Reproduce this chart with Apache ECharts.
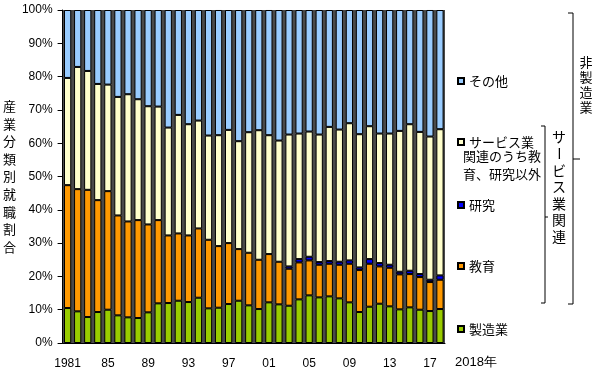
<!DOCTYPE html>
<html><head><meta charset="utf-8">
<script src="https://cdn.jsdelivr.net/npm/echarts@6/dist/echarts.min.js"></script>
<style>html,body{margin:0;padding:0;background:#fff}#c{width:600px;height:380px}</style>
</head><body><div id="c"></div>
<script>
const categories = ['1981','1982','1983','1984','1985','1986','1987','1988','1989','1990',
  '1991','1992','1993','1994','1995','1996','1997','1998','1999','2000',
  '2001','2002','2003','2004','2005','2006','2007','2008','2009','2010',
  '2011','2012','2013','2014','2015','2016','2017','2018'];
const yTickLabels = ['0%','10%','20%','30%','40%','50%','60%','70%','80%','90%','100%'];
const manufacturing = [10.5,9.5,7.8,9.3,10.0,8.3,7.7,7.5,9.2,11.9,12.0,12.7,12.3,13.6,10.4,10.6,11.7,12.7,11.3,10.2,12.2,11.6,11.2,13.1,14.3,13.7,14.0,13.4,12.2,9.3,10.9,11.8,11.0,10.1,10.7,10.0,9.6,10.2];
const education = [36.9,36.7,38.2,33.6,35.6,30.0,28.8,29.4,26.4,25.0,20.3,20.2,20.0,20.8,20.6,18.5,18.3,15.5,15.8,14.8,14.5,12.8,11.1,11.1,10.5,9.8,9.8,10.1,11.6,12.6,12.9,11.2,11.6,10.5,10.0,9.8,8.7,8.8];
const research = [null,null,null,null,null,null,null,null,null,null,null,null,null,null,null,null,null,null,null,null,null,null,0.7,1.0,1.1,0.8,0.8,0.9,1.0,0.8,1.4,1.0,0.9,0.8,1.0,0.9,0.7,1.3];
const serviceOther = [32.2,36.7,35.7,34.9,32.0,35.6,38.2,36.3,35.5,34.1,32.4,35.6,33.4,32.4,31.3,33.3,34.0,32.4,36.2,38.9,35.7,36.4,39.6,37.7,37.6,38.3,40.3,39.7,41.2,40.0,39.9,38.9,39.4,42.3,44.0,42.7,43.0,43.9];
const others = [20.4,17.1,18.3,22.2,22.4,26.1,25.3,26.8,28.9,29.0,35.3,31.5,34.3,33.2,37.7,37.6,36.0,39.4,36.7,36.1,37.6,39.2,37.4,37.1,36.5,37.4,35.1,35.9,34.0,37.3,34.9,37.1,37.1,36.3,34.3,36.6,38.0,35.8];
const seriesNames = ['製造業','教育','研究','サービス業関連のうち教育、研究以外','その他'];

const JP = '"Noto Sans CJK JP", "Noto Sans", sans-serif';
const LAT = '"Liberation Sans", Arial, sans-serif';

function mk(name, data, color){
  return {name, type:'bar', stack:'all', data, barWidth:'72%',
    itemStyle:{color, borderColor:'#000', borderWidth:1}, emphasis:{disabled:true}};
}
function vText(str, cx, cy0, pitch, size){
  const els = [];
  [...str].forEach((ch,i)=>{
    const y = cy0 + i*pitch;
    const el = {type:'text', x:cx, y:y, style:{text:ch, font:size+'px '+JP, fill:'#000', textAlign:'center', textVerticalAlign:'middle'}};
    if (ch === 'ー') el.rotation = -Math.PI/2;
    els.push(el);
  });
  return els;
}
function legendAt(name, top, formatter){
  const l = {data:[name], left:452, top:top, orient:'vertical', icon:'rect', itemWidth:6, itemHeight:6,
    selectedMode:false, textStyle:{fontFamily:JP, fontSize:13, color:'#000', lineHeight:16}};
  if (formatter) l.formatter = formatter;
  return l;
}

const chart = echarts.init(document.getElementById('c'));
chart.setOption({
  animation:false,
  backgroundColor:'#fff',
  grid:{left:54, right:155, top:10, bottom:37, show:true, backgroundColor:'#4a4a4a', borderWidth:0},
  xAxis:{type:'category', data:categories,
    axisLine:{show:true, lineStyle:{color:'#000'}}, axisTick:{show:false},
    axisLabel:{interval:(i)=>i%4===0 && i<37, margin:15, fontFamily:LAT, fontSize:12, color:'#000',
      formatter:(v)=> v==='1981' ? v : v.slice(2)}},
  yAxis:{type:'value', min:0, max:100, interval:10,
    name:'産業分類別就職割合'.split('').join('\n'), nameLocation:'middle', nameRotate:0, nameGap:40,
    nameTextStyle:{fontFamily:JP, fontSize:13, color:'#000', lineHeight:17.6},
    axisLine:{show:true, lineStyle:{color:'#000'}},
    axisTick:{show:true, length:5, lineStyle:{color:'#000'}},
    splitLine:{show:false},
    axisLabel:{margin:10, fontFamily:LAT, fontSize:12, color:'#000', formatter:(v)=>yTickLabels[Math.round(v/10)]}},
  legend:[
    legendAt(seriesNames[4], 68),
    legendAt(seriesNames[3], 129, ()=> 'サービス業'),
    legendAt(seriesNames[2], 192),
    legendAt(seriesNames[1], 253),
    legendAt(seriesNames[0], 316)
  ],
  series:[
    mk(seriesNames[0], manufacturing, '#99cc00'),
    mk(seriesNames[1], education, '#ff9900'),
    mk(seriesNames[2], research, '#0000ff'),
    mk(seriesNames[3], serviceOther, '#ffffcc'),
    mk(seriesNames[4], others, '#99ccff')
  ],
  graphic:[
    {type:'text', left:463, top:147, style:{text:'関連のうち教\n育、研究以外', font:'13px '+JP, fill:'#000', lineHeight:18}},
    {type:'text', left:455, top:356, style:{text:'2018年', font:'13px '+LAT, fill:'#000'}},
    {type:'polyline', shape:{points:[[568,13],[573,13],[573,304],[568,304]]}, style:{stroke:'#000', lineWidth:1, fill:null}},
    {type:'polyline', shape:{points:[[573,159],[580,159]]}, style:{stroke:'#000', lineWidth:1}},
    {type:'polyline', shape:{points:[[541,126],[545,126],[545,303],[541,303]]}, style:{stroke:'#000', lineWidth:1, fill:null}},
    {type:'polyline', shape:{points:[[545,217],[548,217]]}, style:{stroke:'#000', lineWidth:1}},
    ...vText('サービス業関連', 559, 137, 16.6, 14),
    ...vText('非製造業', 586, 62, 15, 13)
  ]
});
</script></body></html>
